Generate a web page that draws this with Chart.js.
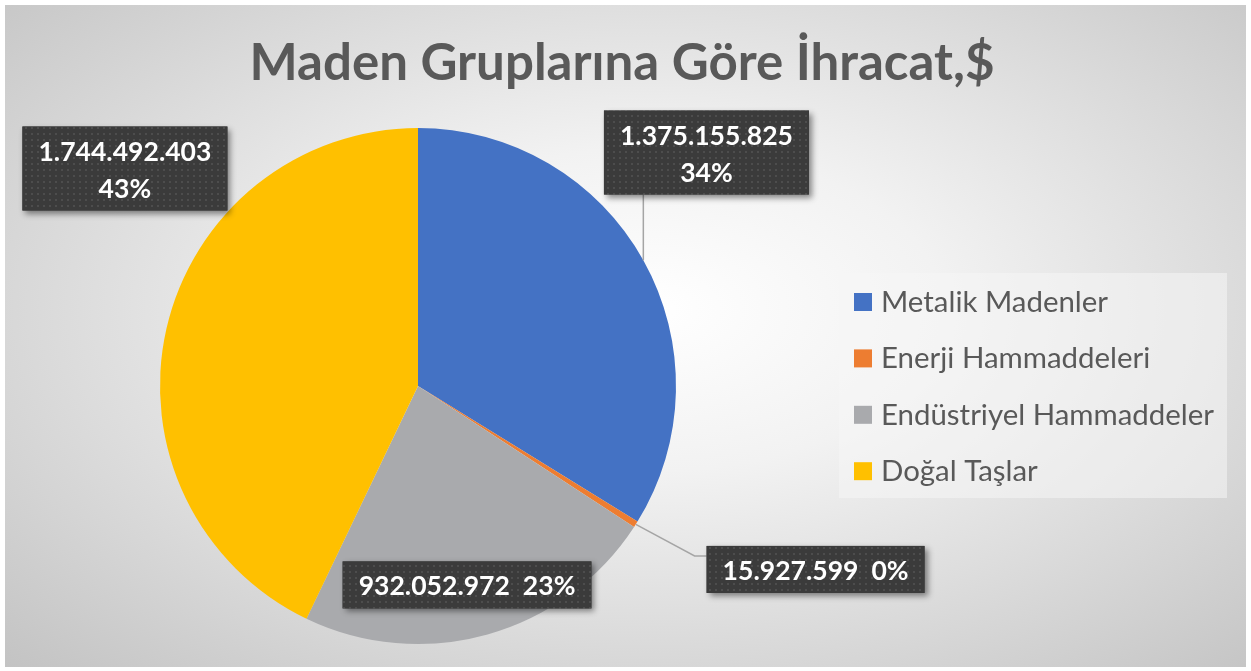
<!DOCTYPE html>
<html>
<head>
<meta charset="utf-8">
<script src="https://cdn.jsdelivr.net/npm/chart.js@4/dist/chart.umd.min.js"></script>
<style>
  html, body { margin: 0; padding: 0; background: #fff; }
  #wrap { position: relative; width: 1251px; height: 671px; overflow: hidden; }
  #bg {
    position: absolute; left: 5px; top: 5px; width: 1241px; height: 662px;
    background: radial-gradient(ellipse farthest-corner at 52% 46%, #ffffff 0%, #f2f2f2 32%, #c3c3c3 100%);
  }
  #chart { position: absolute; left: 0; top: 0; }
</style>
</head>
<body>
<div id="wrap">
  <div id="bg"></div>
  <canvas id="chart" width="1251" height="671"></canvas>
</div>
<script>
// --- DATA ---
const chartTitle = "Maden Gruplarına Göre İhracat,$";
const categories = ["Metalik Madenler", "Enerji Hammaddeleri", "Endüstriyel Hammaddeler", "Doğal Taşlar"];
const exportValues = [1375155825, 15927599, 932052972, 1744492403];
const sliceColors = ["#4472C4", "#ED7D31", "#A9AAAD", "#FFC000"];

// label box layout (offset from pie centre in radius units, lines, leader)
const labelOffsets = [[1.118, -0.905], [1.541, 0.711], [0.190, 0.771], [-1.136, -0.843]];
const labelLines = [2, 1, 1, 2];
const leaderStyle = ["up", "elbow", "none", "none"];

const total = exportValues.reduce((a, b) => a + b, 0);
const fmt = v => v.toLocaleString("tr-TR");

// dotted fill like the office label style
function makePattern(ctx) {
  const c = document.createElement("canvas");
  c.width = 6; c.height = 6;
  const p = c.getContext("2d");
  p.fillStyle = "#3b3b3b";
  p.fillRect(0, 0, 6, 6);
  p.fillStyle = "#4d4d4d";
  p.fillRect(1, 1, 2, 2);
  return ctx.createPattern(c, "repeat");
}

// draw text squeezed horizontally to a target width
function drawScaled(ctx, text, x, y, sx) {
  ctx.save();
  ctx.translate(x, y);
  ctx.scale(sx, 1);
  ctx.fillText(text, 0, 0);
  ctx.restore();
}

const decorPlugin = {
  id: "decor",
  afterDatasetsDraw(chart) {
    const ctx = chart.ctx;
    const meta = chart.getDatasetMeta(0);
    const pattern = makePattern(ctx);

    // --- title ---
    ctx.save();
    ctx.fillStyle = "#595959";
    ctx.font = "bold 52px Lato";
    ctx.textBaseline = "alphabetic";
    ctx.textAlign = "center";
    const tw = ctx.measureText(chartTitle).width;
    drawScaled(ctx, chartTitle, 622, 80, 745 / tw);
    ctx.restore();

    // --- data labels ---
    ctx.save();
    ctx.font = "bold 27px Lato";
    const refW = ctx.measureText(fmt(exportValues[0])).width;
    const sx = 173 / refW;
    meta.data.forEach((arc, i) => {
      const p = arc.getProps(["x", "y", "outerRadius", "startAngle", "endAngle"], true);
      const r = p.outerRadius;
      const mid = (p.startAngle + p.endAngle) / 2;
      const pct = Math.round(exportValues[i] / total * 100) + "%";
      const lines = labelLines[i] === 2 ? [fmt(exportValues[i]), pct] : [fmt(exportValues[i]) + "  " + pct];
      const textW = Math.max(...lines.map(l => ctx.measureText(l).width)) * sx;
      const bw = textW + 32;
      const bh = lines.length * 37 + 10;
      const cx = p.x + labelOffsets[i][0] * r;
      const cy = p.y + labelOffsets[i][1] * r;
      const left = cx - bw / 2, top = cy - bh / 2;

      // leader line
      const ex = p.x + Math.cos(mid) * r, ey = p.y + Math.sin(mid) * r;
      ctx.strokeStyle = "#a5a5a5";
      ctx.lineWidth = 1.5;
      if (leaderStyle[i] === "up") {
        ctx.beginPath(); ctx.moveTo(ex, ey); ctx.lineTo(ex, top + bh); ctx.stroke();
      } else if (leaderStyle[i] === "elbow") {
        ctx.beginPath(); ctx.moveTo(ex, ey); ctx.lineTo(left - 12, top + 10); ctx.lineTo(left, top + 10); ctx.stroke();
      }

      // box with shadow
      ctx.save();
      ctx.shadowColor = "rgba(0,0,0,0.45)";
      ctx.shadowBlur = 6;
      ctx.shadowOffsetX = 3;
      ctx.shadowOffsetY = 3;
      ctx.fillStyle = "#3b3b3b";
      ctx.fillRect(left, top, bw, bh);
      ctx.restore();
      ctx.fillStyle = pattern;
      ctx.fillRect(left, top, bw, bh);

      ctx.fillStyle = "#ffffff";
      ctx.textAlign = "center";
      ctx.textBaseline = "alphabetic";
      lines.forEach((l, k) => drawScaled(ctx, l, cx, top + 34 + k * 37, sx));
    });
    ctx.restore();

    // --- legend ---
    ctx.save();
    ctx.fillStyle = "rgba(245,245,245,0.55)";
    ctx.fillRect(839, 273, 388, 225);
    ctx.font = "29px Lato";
    const lw = Math.max(...categories.map(c => ctx.measureText(c).width));
    const lsx = 333 / lw;
    ctx.textBaseline = "alphabetic";
    ctx.textAlign = "left";
    categories.forEach((c, i) => {
      const y = 293 + i * 56.4;
      ctx.fillStyle = sliceColors[i];
      ctx.fillRect(854, y, 18, 18);
      ctx.fillStyle = "#595959";
      drawScaled(ctx, c, 881, y + 19, lsx);
    });
    ctx.restore();
  }
};

new Chart(document.getElementById("chart"), {
  type: "pie",
  data: {
    labels: categories,
    datasets: [{
      data: exportValues,
      backgroundColor: sliceColors,
      borderWidth: 0,
      hoverOffset: 0,
      offset: 0
    }]
  },
  options: {
    responsive: false,
    animation: false,
    devicePixelRatio: 1,
    layout: { padding: { left: 160, top: 128, right: 575, bottom: 27 } },
    plugins: {
      legend: { display: false },
      title: { display: false },
      tooltip: { enabled: false }
    }
  },
  plugins: [decorPlugin]
});
</script>
</body>
</html>
